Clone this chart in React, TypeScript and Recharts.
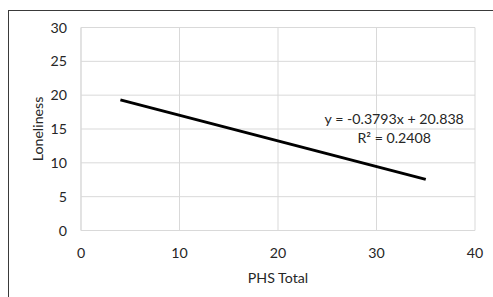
import { LineChart, Line, XAxis, YAxis, CartesianGrid, ReferenceDot } from "recharts"

// trendline endpoints
const phsTotal = [4, 35]
const loneliness = [19.3, 7.55]

const xTicks = [0, 10, 20, 30, 40]
const yTicks = [0, 5, 10, 15, 20, 25, 30]

const equationText = "y = -0.3793x + 20.838"
const rSquaredText = "R² = 0.2408"
const annotationAt = { x: 31.8, y: 16.5 }

const FONT = "Lato, 'Open Sans', sans-serif"
const TEXT = "#262626"
const GRID = "#d9d9d9"
const FS = 14.2

const data = phsTotal.map((x, i) => ({ x, y: loneliness[i] }))

const YTitle = ({ viewBox }: any) => {
  const cx = viewBox.x + 37
  const cy = viewBox.y + viewBox.height / 2
  return (
    <text
      x={cx}
      y={cy}
      transform={`rotate(-90 ${cx} ${cy})`}
      textAnchor="middle"
      dominantBaseline="central"
      fill={TEXT}
      fontSize={FS}
      fontFamily={FONT}
    >
      Loneliness
    </text>
  )
}

const Annotation = (props: any) => {
  const { cx, cy } = props
  return (
    <g>
      <text x={cx} y={cy} textAnchor="middle" dominantBaseline="central" fill={TEXT} fontSize={FS} fontFamily={FONT}>
        {equationText}
      </text>
      <text x={cx} y={cy + 19} textAnchor="middle" dominantBaseline="central" fill={TEXT} fontSize={FS} fontFamily={FONT}>
        {rSquaredText}
      </text>
    </g>
  )
}

export default function App() {
  return (
    <div style={{ position: "absolute", left: 0, top: 0, width: 493, height: 297, overflow: "hidden", background: "#fff" }}>
      <div
        style={{
          position: "absolute",
          left: 8,
          top: 10,
          width: 500,
          height: 300,
          border: "1.5px solid #3a3a3a",
          boxSizing: "border-box",
        }}
      />
      <div style={{ position: "absolute", left: 0, top: 0 }}>
        <LineChart width={493} height={297} data={data} margin={{ top: 27.5, right: 18, bottom: 0, left: 0 }}>
          <CartesianGrid stroke={GRID} strokeWidth={1} />
          <XAxis
            dataKey="x"
            type="number"
            domain={[0, 40]}
            ticks={xTicks}
            axisLine={{ stroke: GRID }}
            tickLine={false}
            tickSize={8}
            tickMargin={9}
            height={66.5}
            tick={{ fill: TEXT, fontSize: FS, fontFamily: FONT }}
            label={{ value: "PHS Total", position: "insideBottom", offset: 14, fill: TEXT, fontSize: FS, fontFamily: FONT }}
          />
          <YAxis
            type="number"
            domain={[0, 30]}
            ticks={yTicks}
            axisLine={{ stroke: GRID }}
            tickLine={false}
            tickSize={8}
            tickMargin={6}
            width={81}
            tick={{ fill: TEXT, fontSize: FS, fontFamily: FONT }}
            label={<YTitle />}
          />
          <Line
            dataKey="y"
            stroke="#000"
            strokeWidth={3}
            dot={false}
            isAnimationActive={false}
          />
          <ReferenceDot x={annotationAt.x} y={annotationAt.y} r={0} shape={<Annotation />} />
        </LineChart>
      </div>
    </div>
  )
}
